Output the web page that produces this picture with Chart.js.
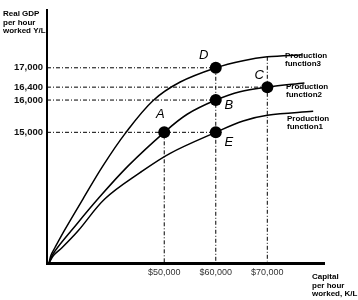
<!DOCTYPE html>
<html>
<head>
<meta charset="utf-8">
<script src="https://cdn.jsdelivr.net/npm/chart.js@4.4.0/dist/chart.umd.min.js"></script>
<style>
	html, body { margin: 0; padding: 0; background: #fff; }
	#wrap { width: 358px; height: 300px; }
</style>
</head>
<body>
<div id="wrap"><canvas id="chart" width="358" height="300"></canvas></div>
<script>
// capital per hour worked (K/L) and real GDP per hour worked (Y/L) along each curve
const fn1K = [27650, 28500, 30200, 33250, 38500, 45300, 51150, 60000, 65300, 70000, 78900];
const fn1Y = [10950, 11184, 11430, 11940, 12940, 13750, 14350, 15000, 15350, 15530, 15650];

const fn2K = [27650, 28250, 29300, 31900, 37150, 43000, 50000, 54450, 60000, 64700, 70000, 77200];
const fn2Y = [10950, 11184, 11430, 11940, 12940, 13960, 15000, 15560, 16000, 16260, 16400, 16530];

const fn3K = [27650, 28000, 28800, 30550, 34250, 38100, 42400, 47800, 53100, 60000, 65300, 70000, 76800];
const fn3Y = [10950, 11184, 11430, 11940, 12940, 13960, 14960, 15980, 16560, 17000, 17220, 17340, 17400];

const curveNames = [['Production', 'function1'], ['Production', 'function2'], ['Production', 'function3']];

const pointNames = ['A', 'B', 'C', 'D', 'E'];
const pointK = [50000, 60000, 70000, 60000, 60000];
const pointY = [15000, 16000, 16400, 17000, 15000];

const xTicks = [50000, 60000, 70000];
const yTicks = [15000, 16000, 16400, 17000];

// dash-dot guide lines
const hGuideY = [17000, 16400, 16000, 15000];
const hGuideEnd = [60000, 70000, 60000, 60000];
const vGuideK = [50000, 60000, 70000];
const vGuideTop = [15000, 17000, 17340];

const xMin = 27250, xMax = 81000;
const yMin = 10950, yMax = 18800;

const FONT = '"Liberation Sans", Arial, sans-serif';

const toXY = (ks, ys) => ks.map((k, i) => ({ x: k, y: ys[i] }));

const datasets = [];

datasets.push({
	data: toXY(pointK, pointY),
	showLine: false,
	pointRadius: 6,
	pointBackgroundColor: '#000',
	pointBorderColor: '#000',
	pointBorderWidth: 0,
	order: 0
});

[[fn1K, fn1Y], [fn2K, fn2Y], [fn3K, fn3Y]].forEach(([k, y]) => {
	datasets.push({
		data: toXY(k, y),
		borderColor: '#000',
		borderWidth: 1.5,
		pointRadius: 0,
		tension: 0.35,
		fill: false,
		order: 1
	});
});

hGuideY.forEach((y, i) => {
	datasets.push({
		data: [{ x: xMin, y: y }, { x: hGuideEnd[i], y: y }],
		borderColor: '#000',
		borderWidth: 1,
		borderDash: [4, 2, 1, 2],
		pointRadius: 0,
		order: 2
	});
});

vGuideK.forEach((k, i) => {
	datasets.push({
		data: [{ x: k, y: vGuideTop[i] }, { x: k, y: i === 2 ? 11000 : yMin }],
		borderColor: '#000',
		borderWidth: 1,
		borderDash: [4, 2, 1, 2],
		pointRadius: 0,
		order: 2
	});
});

const labelsPlugin = {
	id: 'labels',
	afterDraw(chart) {
		const ctx = chart.ctx;
		const xs = chart.scales.x, ys = chart.scales.y;
		ctx.save();
		ctx.fillStyle = '#000';

		// point letters
		const offs = { A: [-4, -18], B: [13, 5], C: [-8, -12], D: [-12, -12], E: [13, 10] };
		ctx.font = 'italic 13px ' + FONT;
		ctx.textAlign = 'center';
		ctx.textBaseline = 'middle';
		pointNames.forEach((n, i) => {
			const px = xs.getPixelForValue(pointK[i]);
			const py = ys.getPixelForValue(pointY[i]);
			ctx.fillText(n, px + offs[n][0], py + offs[n][1]);
		});

		// curve labels
		ctx.font = 'bold 8px ' + FONT;
		ctx.textAlign = 'left';
		const curveLabelPos = [[287, 119], [286, 87], [285, 56]];
		curveNames.forEach((lines, i) => {
			lines.forEach((t, j) => ctx.fillText(t, curveLabelPos[i][0], curveLabelPos[i][1] + j * 8));
		});

		// axis titles
		['Real GDP', 'per hour', 'worked Y/L'].forEach((t, j) => ctx.fillText(t, 3, 14 + j * 8.3));
		['Capital', 'per hour', 'worked, K/L'].forEach((t, j) => ctx.fillText(t, 312, 277 + j * 8.5));

		ctx.restore();
	}
};

new Chart(document.getElementById('chart'), {
	type: 'line',
	data: { datasets: datasets },
	options: {
		responsive: false,
		animation: false,
		devicePixelRatio: 1,
		layout: { padding: { top: 3, right: 34, left: 0, bottom: 0 } },
		plugins: {
			legend: { display: false },
			tooltip: { enabled: false }
		},
		scales: {
			x: {
				type: 'linear',
				min: xMin,
				max: xMax,
				grid: { display: false, drawTicks: false },
				border: { display: true, color: '#000', width: 3 },
				afterBuildTicks: (scale) => { scale.ticks = xTicks.map(v => ({ value: v })); },
				afterFit: (scale) => { scale.height = 37; },
				ticks: {
					autoSkip: false,
					maxRotation: 0,
					padding: 4,
					color: '#333',
					font: { family: FONT, size: 9 },
					callback: (v) => '$' + v.toLocaleString('en-US')
				}
			},
			y: {
				type: 'linear',
				min: yMin,
				max: yMax,
				grid: { display: false, drawTicks: false },
				border: { display: true, color: '#000', width: 2 },
				afterBuildTicks: (scale) => { scale.ticks = yTicks.map(v => ({ value: v })); },
				afterFit: (scale) => { scale.width = 47; },
				ticks: {
					autoSkip: false,
					padding: 4,
					color: '#111',
					font: { family: FONT, size: 9.5, weight: 'bold' },
					callback: (v) => v.toLocaleString('en-US')
				}
			}
		}
	},
	plugins: [labelsPlugin]
});
</script>
</body>
</html>
